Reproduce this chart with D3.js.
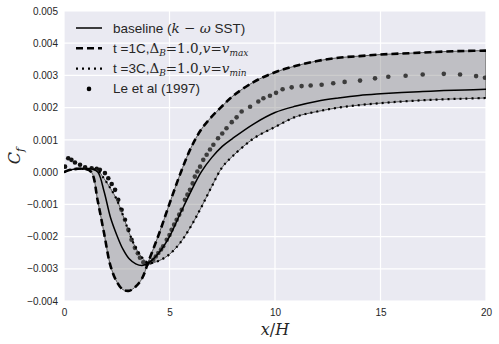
<!DOCTYPE html>
<html>
<head>
<meta charset="utf-8">
<script src="https://cdn.jsdelivr.net/npm/d3@7"></script>
<style>
  body { margin: 0; background: #fff; }
  text { font-family: "Liberation Sans", Arial, sans-serif; }
</style>
</head>
<body>
<div id="chart"></div>
<script>
var svgWidth = 499;
var svgHeight = 344;

var margin = { top: 11, bottom: 43, right: 13, left: 64 };
var width = svgWidth - margin.left - margin.right;
var height = svgHeight - margin.top - margin.bottom;

// x/H stations shared by the three RANS curves
var xs = [0, 0.3, 0.6, 1.0, 1.3, 1.6, 1.9, 2.2, 2.5, 2.8, 3.1, 3.4, 3.7, 4.0, 4.5, 5, 5.5, 6, 6.5, 7, 7.5, 8, 9, 10, 11, 12, 13, 14, 15, 16, 17, 18, 19, 20];

// Cf values (x 1e-3)
var baseline = [0.0, 0.07, 0.1, 0.1, 0.1, 0.0, -0.6, -1.4, -1.95, -2.4, -2.7, -2.85, -2.9, -2.82, -2.5, -2.0, -1.3, -0.62, 0.0, 0.45, 0.8, 1.05, 1.5, 1.85, 2.05, 2.2, 2.3, 2.38, 2.43, 2.47, 2.5, 2.53, 2.55, 2.57];
var vmax = [0.0, 0.07, 0.1, 0.1, 0.0, -0.9, -1.9, -2.9, -3.4, -3.65, -3.68, -3.55, -3.3, -2.78, -1.92, -0.98, -0.07, 0.73, 1.32, 1.72, 2.05, 2.36, 2.8, 3.1, 3.3, 3.45, 3.55, 3.6, 3.65, 3.68, 3.71, 3.74, 3.76, 3.77];
var vmin = [0.0, 0.07, 0.1, 0.1, 0.1, 0.05, -0.2, -0.5, -0.85, -1.35, -1.9, -2.35, -2.65, -2.82, -2.75, -2.55, -2.2, -1.7, -1.1, -0.45, 0.15, 0.5, 1.05, 1.4, 1.72, 1.88, 2.0, 2.08, 2.14, 2.19, 2.23, 2.26, 2.28, 2.3];

// Le et al (1997) experiment
var leX = [0.05, 0.2, 0.35, 0.52, 0.76, 1.0, 1.31, 1.55, 1.7, 1.94, 2.1, 2.26, 2.42, 2.57, 2.73, 2.89, 3.05, 3.2, 3.36, 3.5, 3.6, 3.76, 3.92, 4.08, 4.23, 4.35, 4.47, 4.6, 4.7, 4.87, 5.0, 5.1, 5.22, 5.34, 5.46, 5.58, 5.73, 5.85, 5.97, 6.1, 6.2, 6.32, 6.45, 6.6, 6.76, 6.92, 7.08, 7.3, 7.5, 7.7, 7.95, 8.18, 8.42, 8.82, 9.21, 9.45, 9.76, 10.05, 10.36, 10.79, 11.26, 11.69, 12.21, 12.76, 13.3, 14.03, 14.74, 15.37, 16.19, 17.0, 18.0, 18.77, 19.53, 19.95];
var leY = [0.17, 0.43, 0.38, 0.30, 0.23, 0.15, 0.12, 0.10, 0.07, -0.03, -0.19, -0.37, -0.55, -0.86, -1.17, -1.48, -1.79, -2.1, -2.35, -2.52, -2.66, -2.8, -2.85, -2.8, -2.72, -2.62, -2.51, -2.4, -2.3, -2.1, -1.95, -1.79, -1.63, -1.48, -1.32, -1.17, -0.86, -0.7, -0.55, -0.35, -0.14, 0.02, 0.17, 0.38, 0.54, 0.7, 0.85, 1.05, 1.2, 1.36, 1.55, 1.7, 1.88, 2.03, 2.19, 2.29, 2.37, 2.46, 2.57, 2.63, 2.67, 2.69, 2.71, 2.76, 2.8, 2.84, 2.91, 2.96, 2.99, 3.03, 3.05, 3.03, 2.98, 2.93];

var xTicks = [0, 5, 10, 15, 20];
var yTicks = [-0.004, -0.003, -0.002, -0.001, 0.000, 0.001, 0.002, 0.003, 0.004, 0.005];

var svg = d3.select("#chart")
    .append("svg")
    .attr("width", svgWidth)
    .attr("height", svgHeight);

var chartGroup = svg.append("g")
    .attr("transform", `translate(${margin.left}, ${margin.top})`);

var xScale = d3.scaleLinear().domain([0, 20]).range([0, width]);
var yScale = d3.scaleLinear().domain([-0.004, 0.005]).range([height, 0]);

// background
chartGroup.append("rect")
    .attr("width", width)
    .attr("height", height)
    .attr("fill", "#eaeaf2");

// grid
chartGroup.append("g").selectAll("line")
    .data(xTicks).enter().append("line")
    .attr("x1", d => xScale(d)).attr("x2", d => xScale(d))
    .attr("y1", 0).attr("y2", height)
    .attr("stroke", "#fff").attr("stroke-width", 1.2);
chartGroup.append("g").selectAll("line")
    .data(yTicks).enter().append("line")
    .attr("x1", 0).attr("x2", width)
    .attr("y1", d => yScale(d)).attr("y2", d => yScale(d))
    .attr("stroke", "#fff").attr("stroke-width", 1.2);

// axes (labels only, seaborn style)
var bottomAxis = d3.axisBottom(xScale).tickValues(xTicks).tickSize(0).tickPadding(8);
var leftAxis = d3.axisLeft(yScale).tickValues(yTicks).tickSize(0).tickPadding(6)
    .tickFormat(d => d3.format(".3f")(d).replace("-", "\u2212"));

var xAxis = chartGroup.append("g")
    .attr("transform", `translate(0, ${height})`)
    .call(bottomAxis);
var yAxis = chartGroup.append("g").call(leftAxis);
[xAxis, yAxis].forEach(function(a) {
    a.select(".domain").remove();
    a.selectAll("text")
        .style("font-family", "'Liberation Sans', Arial, sans-serif")
        .style("font-size", "10px")
        .attr("fill", "#262626");
});

var curveData = xs.map((x, i) => ({ x: x, b: baseline[i] / 1000, hi: vmax[i] / 1000, lo: vmin[i] / 1000 }));
var leData = leX.map((x, i) => ({ x: x, y: leY[i] / 1000 }));

var clip = chartGroup.append("clipPath").attr("id", "clip")
    .append("rect").attr("width", width).attr("height", height);
var plot = chartGroup.append("g").attr("clip-path", "url(#clip)");

// experiment dots (drawn below the band)
plot.selectAll("circle")
    .data(leData)
    .enter()
    .append("circle")
    .attr("cx", d => xScale(d.x))
    .attr("cy", d => yScale(d.y))
    .attr("r", 2.3)
    .attr("fill", "#111");

// uncertainty band
var area = d3.area()
    .x(d => xScale(d.x))
    .y0(d => yScale(d.lo))
    .y1(d => yScale(d.hi))
    .curve(d3.curveCatmullRom);
plot.append("path")
    .datum(curveData)
    .attr("d", area)
    .attr("fill", "#808080")
    .attr("fill-opacity", 0.4)
    .attr("stroke", "#333")
    .attr("stroke-width", 0.8);

function lineOf(key) {
    return d3.line().x(d => xScale(d.x)).y(d => yScale(d[key])).curve(d3.curveCatmullRom);
}

plot.append("path").datum(curveData).attr("d", lineOf("b"))
    .attr("fill", "none").attr("stroke", "#000").attr("stroke-width", 1.5);
plot.append("path").datum(curveData).attr("d", lineOf("hi"))
    .attr("fill", "none").attr("stroke", "#000").attr("stroke-width", 2.6)
    .attr("stroke-dasharray", "7,4");
plot.append("path").datum(curveData).attr("d", lineOf("lo"))
    .attr("fill", "none").attr("stroke", "#000").attr("stroke-width", 2.2)
    .attr("stroke-dasharray", "2,4");

// legend
var serif = "'DejaVu Serif', 'Liberation Serif', serif";
var legend = chartGroup.append("g").attr("transform", "translate(12, 17)");
var rows = [
    { style: "solid", parts: [["baseline (", 0], ["k", 1], [" \u2212 ", 2], ["\u03c9", 1], [" SST)", 0]] },
    { style: "dash", parts: [["t =1C,", 0], ["\u0394", 2], ["B", 3], ["=1.0,", 2], ["v", 1], ["=", 2], ["v", 1], ["max", 3]] },
    { style: "dot", parts: [["t =3C,", 0], ["\u0394", 2], ["B", 3], ["=1.0,", 2], ["v", 1], ["=", 2], ["v", 1], ["min", 3]] },
    { style: "marker", parts: [["Le et al (1997)", 0]] }
];
rows.forEach(function(r, i) {
    var g = legend.append("g").attr("transform", `translate(0, ${i * 20.3})`);
    if (r.style === "marker") {
        g.append("circle").attr("cx", 13).attr("cy", 0).attr("r", 2.3).attr("fill", "#000");
    } else {
        g.append("line").attr("x1", 0).attr("x2", 26).attr("y1", 0).attr("y2", 0)
            .attr("stroke", "#000")
            .attr("stroke-width", r.style === "solid" ? 1.5 : (r.style === "dash" ? 2.6 : 2.2))
            .attr("stroke-dasharray", r.style === "dash" ? "7,4" : (r.style === "dot" ? "2,4" : null));
    }
    var t = g.append("text").attr("x", 37).attr("y", 4.5)
        .style("font-size", "13.5px").attr("fill", "#262626");
    r.parts.forEach(function(p) {
        var s = t.append("tspan").text(p[0]);
        if (p[1] === 1) s.style("font-family", serif).style("font-style", "italic");
        if (p[1] === 2) s.style("font-family", serif);
        if (p[1] === 3) s.style("font-family", serif).style("font-style", "italic")
            .style("font-size", "9px").attr("dy", 3);
        if (p[1] !== 3 && t.selectAll("tspan").size() > 1) {
            var prev = r.parts[t.selectAll("tspan").size() - 2];
            if (prev[1] === 3) s.attr("dy", -3);
        }
    });
});

// axis titles
var xt = chartGroup.append("text")
    .attr("x", width / 2)
    .attr("y", height + 34)
    .attr("text-anchor", "middle")
    .style("font-family", serif)
    .style("font-size", "16px")
    .attr("fill", "#262626");
xt.append("tspan").style("font-style", "italic").text("x");
xt.append("tspan").text("/");
xt.append("tspan").style("font-style", "italic").text("H");

var yt = chartGroup.append("text")
    .attr("transform", `translate(${-margin.left + 20}, ${height / 2}) rotate(-90)`)
    .attr("text-anchor", "middle")
    .style("font-family", serif)
    .style("font-size", "16px")
    .attr("fill", "#262626");
yt.append("tspan").style("font-style", "italic").text("C");
yt.append("tspan").style("font-style", "italic").style("font-size", "11px").attr("dy", 4).text("f");
</script>
</body>
</html>
